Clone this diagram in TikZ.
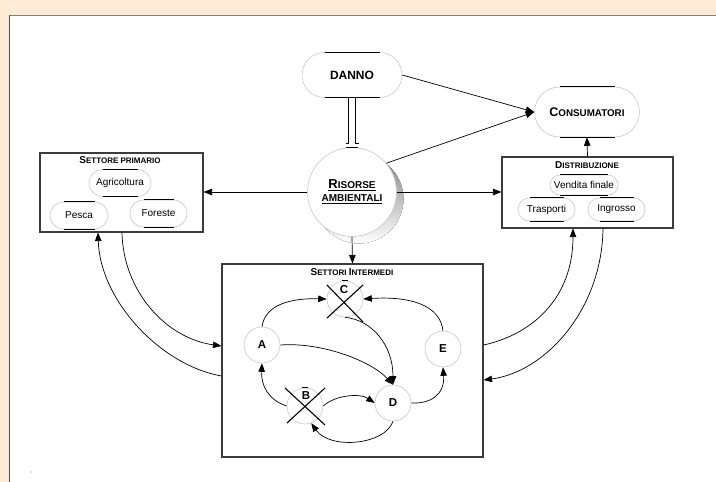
\documentclass[tikz,border=0pt]{standalone}
\usepackage{fontspec}
\setmainfont{Liberation Sans}
\usetikzlibrary{arrows.meta}
\definecolor{peach}{RGB}{255,235,214}
\definecolor{frame}{RGB}{60,60,60}
\definecolor{rim}{RGB}{200,200,200}
\definecolor{shade}{RGB}{205,205,205}

% big capital followed by smaller capitals
\newcommand\smcp[4]{{\fontsize{#1}{#1}\selectfont #3}{\fontsize{#2}{#2}\selectfont #4}}

\tikzset{
  conn/.style={draw=black, line width=0.7pt},
  arr/.style={conn, -{Triangle[length=8.5pt,width=6.5pt]}},
  sector/.style={rectangle, draw=frame, line width=1.1pt, fill=white, inner sep=0pt},
  ball/.style={circle, draw=rim, line width=0.6pt, fill=white, minimum size=36pt, inner sep=0pt,
               font=\fontsize{11.5}{11.5}\selectfont\bfseries},
  pill/.style={rectangle, draw=rim, line width=0.6pt, fill=white, inner sep=0pt,
               font=\fontsize{10}{12}\selectfont},
  flat/.style={draw=black, line width=0.8pt},
  cross/.style={draw=black, line width=1.1pt},
  heading/.style={inner sep=0pt, font=\bfseries},
}

% rounded terminal: light ends, dark straight runs
\newcommand\pillnode[6]{%
  \pgfmathsetmacro\pillrad{#5/2}%
  \pgfmathsetmacro\halfrun{(#4-#5)/2}%
  \node[pill, minimum width=#4pt, minimum height=#5pt, rounded corners=\pillrad pt] (#1) at (#2,#3) {#6};
  \draw[flat] ([xshift=-\halfrun pt]#1.north) -- ([xshift=\halfrun pt]#1.north)
              ([xshift=-\halfrun pt]#1.south) -- ([xshift=\halfrun pt]#1.south);
}

\begin{document}
\begin{tikzpicture}[x=1pt,y=-1pt]
\useasboundingbox (0,0) rectangle (716,482);
% page and panel
\fill[peach] (0,0) rectangle (716,482);
\fill[white] (9,15.5) rectangle (716,482);
\draw[gray, line width=1.5pt] (9,15.5) -- (716,15.5);
\draw[black!70, line width=1.5pt] (9.5,482) -- (9.5,15);
\fill[gray] (31,472) circle (0.6);

% top row
\pillnode{danno}{352}{75}{100}{45}{\fontsize{12}{12}\selectfont\bfseries DANNO}
\pillnode{cons}{587}{112}{105}{50}{\bfseries\smcp{12.5}{9.8}{C}{ONSUMATORI}}

% central resource
\fill[shade] (359,199) circle (44.5);
\node[circle, draw=rim, line width=0.6pt, fill=white, minimum size=89pt, inner sep=0pt,
      align=center, font=\bfseries] (ris) at (352,192)
  {\underline{\smcp{13}{10}{R}{ISORSE}}\\[1pt]\underline{\fontsize{10}{12}\selectfont AMBIENTALI}};
\draw[flat] ([xshift=-6pt]ris.north) -- ([xshift=6pt]ris.north);

% sector boxes
\node[sector, minimum width=163pt, minimum height=79pt] (prim) at (121.5,192.5) {};
\node[heading] (primt) at (120,160) {\smcp{10}{8}{S}{ETTORE PRIMARIO}};
\pillnode{agri}{120}{183}{62}{27}{Agricoltura}
\pillnode{pesca}{79}{215.5}{58}{27}{Pesca}
\pillnode{fore}{158.5}{213.5}{57}{27}{Foreste}

\node[sector, minimum width=171pt, minimum height=71pt] (dist) at (587.5,192.5) {};
\node[heading] (distt) at (587,165) {\smcp{10}{8}{D}{ISTRIBUZIONE}};
\pillnode{vend}{584}{185}{68}{20}{Vendita finale}
\pillnode{trasp}{546.5}{209.5}{57}{23}{Trasporti}
\pillnode{ingr}{616.5}{209.5}{57}{23}{Ingrosso}

\node[sector, minimum width=261pt, minimum height=193pt] (inter) at (352.5,360.5) {};
\node[heading] (intert) at (352,272) {\smcp{10}{8}{S}{ETTORI }\smcp{10}{8}{I}{NTERMEDI}};

% intermediate sectors
\node[ball] (A) at (262,345) {A};
\node[ball] (C) at (345,299) {};
\node[ball] (B) at (305,406) {};
\node[ball] (D) at (393,403) {D};
\node[ball] (E) at (443,349) {E};
\node[inner sep=0pt, font=\fontsize{11.5}{11.5}\selectfont\bfseries] (Cl) at (344,290) {C};
\node[inner sep=0pt, font=\fontsize{11.5}{11.5}\selectfont\bfseries] (Bl) at (306,396) {B};
\draw[flat] ([xshift=-3pt]C.north) -- ([xshift=3pt]C.north);
\draw[flat] ([xshift=-3pt]B.north) -- ([xshift=3pt]B.north);

% top connectors
\draw[arr] (danno.east) -- (cons.west);
\draw[arr] (ris.40) -- (cons.west);
\draw[conn] ([xshift=-3.5pt]danno.south) -- ([xshift=-3.5pt,yshift=4pt]ris.north) -- ++(-3,0);
\draw[conn] ([xshift=3.5pt]danno.south) -- ([xshift=3.5pt,yshift=4pt]ris.north) -- ++(3,0);
\draw[arr] (ris.west) -- (prim.east |- ris.west);
\draw[arr] (ris.east) -- (dist.west |- ris.east);
\draw[arr] (ris.south) -- (inter.north);
\draw[arr] (dist.north) -- (cons.south);

% exchanges with the outer sectors
\draw[arr] (inter.west |- 0,376) .. controls (160,365) and (100,300) .. (prim.south -| 98,0);
\draw[arr] (prim.south -| 122,0) .. controls (123,290) and (165,338) .. (inter.west |- 0,346);
\draw[arr] (inter.east |- 0,345) .. controls (530,335) and (573,300) .. (dist.south -| 573,0);
\draw[arr] (dist.south -| 603,0) .. controls (602,310) and (545,372) .. (inter.east |- 0,380);

% flows between intermediate sectors
\draw[arr] (A.north) .. controls (265,305) and (290,298) .. (C.west);
\draw[arr] (E.north) .. controls (440,305) and (410,296) .. (C.east);
\draw[arr] (C.south) .. controls (372,320) and (393,345) .. (D.north);
\draw[arr] (A.east) .. controls (320,342) and (370,360) .. (D.north);
\draw[arr] (B.west) .. controls (268,400) and (261,385) .. (A.south);
\draw[arr] (B.east) .. controls (335,395) and (360,393) .. (D.west);
\draw[arr] (D.south) .. controls (385,445) and (330,450) .. (B.-70);
\draw[arr] (D.east) .. controls (430,404) and (445,395) .. (E.south);

% removed sectors
\draw[cross] ([shift={(-18,-14)}]C.center) -- ([shift={(18,23)}]C.center);
\draw[cross] ([shift={(18,-14)}]C.center) -- ([shift={(-18,19)}]C.center);
\draw[cross] ([shift={(-20,-18)}]B.center) -- ([shift={(20,19)}]B.center);
\draw[cross] ([shift={(20,-18)}]B.center) -- ([shift={(-18,17)}]B.center);
\end{tikzpicture}
\end{document}
